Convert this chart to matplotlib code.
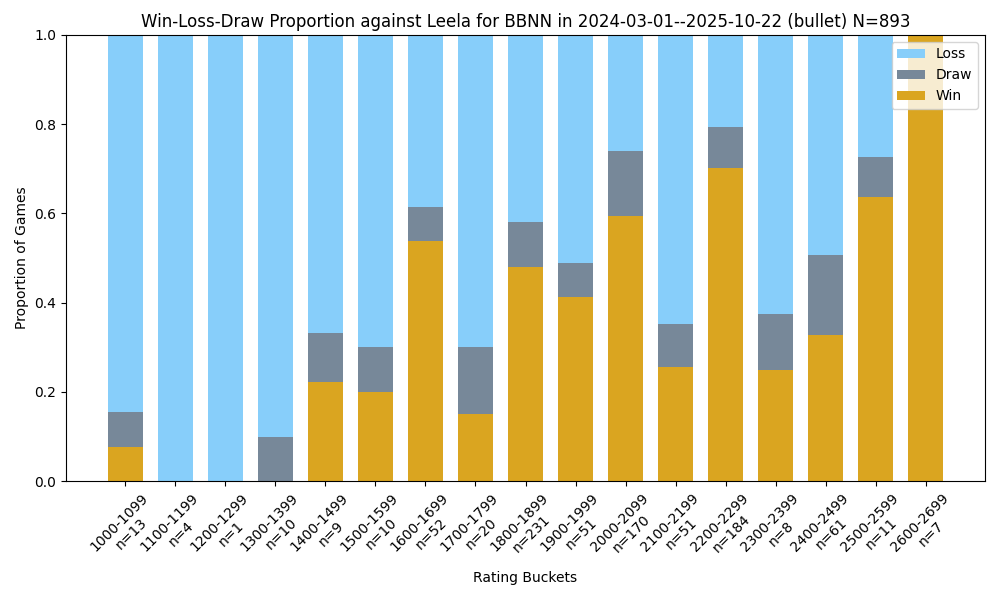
import matplotlib
matplotlib.use("Agg")
import matplotlib.pyplot as plt
import numpy as np

buckets = ["1000-1099", "1100-1199", "1200-1299", "1300-1399", "1400-1499",
           "1500-1599", "1600-1699", "1700-1799", "1800-1899", "1900-1999",
           "2000-2099", "2100-2199", "2200-2299", "2300-2399", "2400-2499",
           "2500-2599", "2600-2699"]
counts = [13, 4, 1, 10, 9, 10, 52, 20, 231, 51, 170, 51, 184, 8, 61, 11, 7]
win = [0.077, 0.0, 0.0, 0.0, 0.222, 0.2, 0.538, 0.15, 0.481, 0.412,
       0.594, 0.255, 0.701, 0.25, 0.328, 0.636, 1.0]
draw = [0.077, 0.0, 0.0, 0.1, 0.111, 0.1, 0.077, 0.15, 0.1, 0.078,
        0.147, 0.098, 0.092, 0.125, 0.180, 0.091, 0.0]
loss = [1 - w - d for w, d in zip(win, draw)]

x = np.arange(len(buckets))
win_a = np.array(win)
draw_a = np.array(draw)
loss_a = np.array(loss)

fig, ax = plt.subplots(figsize=(10, 6), dpi=100)
w = 0.7
b_win = ax.bar(x, win_a, w, color="#DAA520", label="Win")
b_draw = ax.bar(x, draw_a, w, bottom=win_a, color="#778899", label="Draw")
b_loss = ax.bar(x, loss_a, w, bottom=win_a + draw_a, color="#87CEFA", label="Loss")

ax.set_xticks(x)
ax.set_xticklabels([f"{b}\nn={c}" for b, c in zip(buckets, counts)], rotation=45)
ax.set_ylim(0, 1)
ax.set_xlabel("Rating Buckets")
ax.set_ylabel("Proportion of Games")
ax.set_title("Win-Loss-Draw Proportion against Leela for BBNN in 2024-03-01--2025-10-22 (bullet) N=893")
ax.legend([b_loss, b_draw, b_win], ["Loss", "Draw", "Win"], loc="upper right")
fig.subplots_adjust(left=0.066, right=0.985, top=0.9417, bottom=0.198)
fig.savefig("out.png")
